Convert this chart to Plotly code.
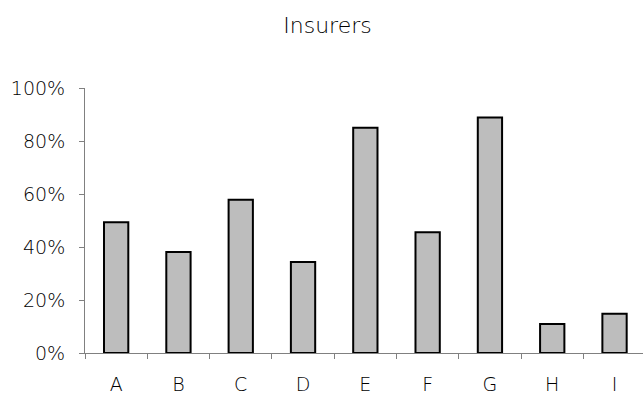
import plotly.graph_objects as go

# Share of respondents per insurer
categories = ["A", "B", "C", "D", "E", "F", "G", "H", "I"]
shares = [0.493, 0.381, 0.578, 0.343, 0.850, 0.456, 0.889, 0.109, 0.148]
y_ticks = [0, 0.2, 0.4, 0.6, 0.8, 1.0]
y_tick_text = ["0%", "20%", "40%", "60%", "80%", "100%"]

FONT = "DejaVu Sans"

fig = go.Figure(
    go.Bar(
        x=categories,
        y=shares,
        width=0.39,
        marker=dict(color="#bdbdbd", line=dict(color="black", width=2)),
    )
)

fig.update_layout(
    width=643,
    height=396,
    margin=dict(l=85, r=0, t=88, b=43),
    paper_bgcolor="white",
    plot_bgcolor="white",
    showlegend=False,
    font=dict(family=FONT, size=19, color="black", weight=300),
    title=dict(
        text="Insurers",
        x=327.5 / 643,
        xanchor="center",
        y=1 - 25 / 396,
        yanchor="middle",
        font=dict(family=FONT, size=22, color="black", weight=300),
    ),
)

fig.update_xaxes(
    range=[-0.5, 8.457],
    showline=True,
    linecolor="#808080",
    linewidth=1,
    ticks="outside",
    tickson="boundaries",
    ticklen=5,
    tickcolor="#808080",
    showgrid=False,
    ticklabelstandoff=14,
)

fig.update_yaxes(
    range=[0, 1.0],
    tickvals=y_ticks,
    ticktext=y_tick_text,
    showline=True,
    linecolor="#808080",
    linewidth=1,
    ticks="outside",
    ticklen=5,
    tickcolor="#808080",
    showgrid=False,
    zeroline=False,
    ticklabelstandoff=10,
)

fig.write_html("out.html")
